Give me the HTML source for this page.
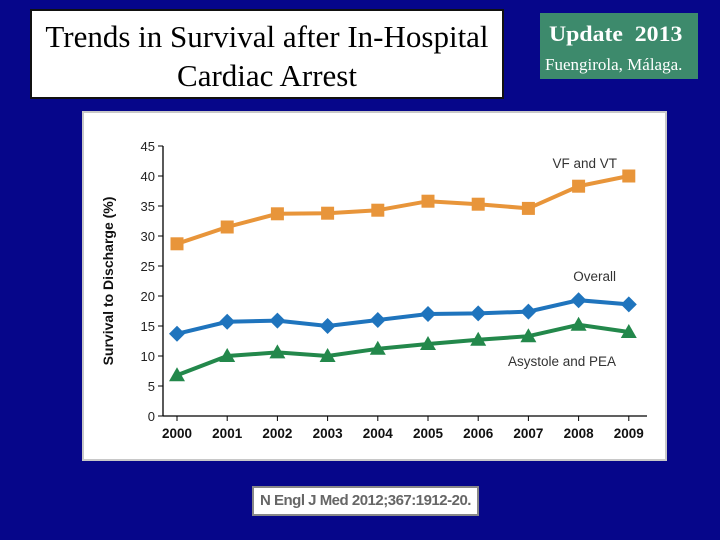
<!DOCTYPE html>
<html><head><meta charset="utf-8"><style>
body{margin:0;width:720px;height:540px;background:#06068a;position:relative;overflow:hidden;font-family:"Liberation Sans",sans-serif}
#title{position:absolute;left:30px;top:9px;width:474px;height:90px;background:#fff;border:2px solid #111;text-align:center;font-family:"Liberation Serif",serif;font-size:31px;line-height:39px;color:#000;padding-top:6px;box-sizing:border-box}
#badge{position:absolute;left:540px;top:13px;width:158px;height:66px;background:#3d8a6c;color:#fff;font-family:"Liberation Serif",serif}
#panel{position:absolute;left:82px;top:111px;width:585px;height:350px;background:#fff;border:2px solid #c8c8c8;box-sizing:border-box}
#cite{position:absolute;left:252px;top:486px;width:227px;height:30px;background:#fff;border:2px solid #888;box-sizing:border-box;color:#666;font-weight:bold;font-size:15px;line-height:26px;text-align:center;letter-spacing:-0.5px}
</style></head><body>
<div id="title">Trends in Survival after In-Hospital<br>Cardiac Arrest</div>
<div id="badge"><div style="position:absolute;left:9px;top:8px;font-size:22px;font-weight:bold;transform:scaleX(1.08);transform-origin:left">Update&nbsp; 2013</div><div style="position:absolute;left:5px;top:42px;font-size:17px;transform:scaleX(1.0);transform-origin:left;white-space:nowrap">Fuengirola, Málaga.</div></div>
<div id="panel"></div>
<svg id="chart" width="720" height="540" style="position:absolute;left:0;top:0"></svg>
<div id="cite">N Engl J Med 2012;367:1912-20.</div>
<script>
const years=["2000","2001","2002","2003","2004","2005","2006","2007","2008","2009"];
const yTicks=[0,5,10,15,20,25,30,35,40,45];
const vfvt=[28.7,31.5,33.7,33.8,34.3,35.8,35.3,34.6,38.3,40.0];
const overall=[13.7,15.7,15.9,15.0,16.0,17.0,17.1,17.4,19.3,18.6];
const asystole=[6.8,10.0,10.6,10.0,11.2,12.0,12.7,13.3,15.2,14.0];
const svg=document.getElementById('chart');const NS='http://www.w3.org/2000/svg';
const x=i=>177+i*50.2, y=v=>416-v*6;
function mk(t,a,txt){const e=document.createElementNS(NS,t);for(const k in a)e.setAttribute(k,a[k]);if(txt!=null)e.textContent=txt;svg.appendChild(e);return e;}
let e=mk('line',{x1:163,y1:146,x2:163,y2:416,stroke:'#000','stroke-width':1.3});

e=mk('line',{x1:163,y1:416,x2:647,y2:416,stroke:'#000','stroke-width':1.3});

yTicks.forEach(v=>{mk('line',{x1:158,y1:y(v),x2:163,y2:y(v),stroke:'#000'});
 e=mk('text',{x:155,y:y(v)+5,'text-anchor':'end','font-size':13,fill:'#222'},v);
 });
years.forEach((t,i)=>{mk('line',{x1:x(i),y1:416,x2:x(i),y2:421,stroke:'#000'});
 e=mk('text',{x:x(i),y:438,'text-anchor':'middle','font-size':13.5,'font-weight':'bold',fill:'#111'},t);
 });
e=mk('text',{transform:'translate(113,281) rotate(-90)','text-anchor':'middle','font-size':14,'font-weight':'bold',fill:'#111'},'Survival to Discharge (%)');

function series(d,col,shape,name){
 e=mk('polyline',{points:d.map((v,i)=>x(i)+','+y(v)).join(' '),fill:'none',stroke:col,'stroke-width':4});
 
 d.forEach((v,i)=>{const cx=x(i),cy=y(v);let m;
  if(shape==='sq')m=mk('rect',{x:cx-6.5,y:cy-6.5,width:13,height:13,fill:col});
  else if(shape==='di')m=mk('polygon',{points:`${cx},${cy-8} ${cx+8},${cy} ${cx},${cy+8} ${cx-8},${cy}`,fill:col});
  else m=mk('polygon',{points:`${cx},${cy-8} ${cx+8},${cy+6} ${cx-8},${cy+6}`,fill:col});
  });
}
series(vfvt,'#e8953a','sq','vf-vt');
series(overall,'#1f74bd','di','overall');
series(asystole,'#23884b','tr','asystole-pea');
[['VF and VT',617,168],['Overall',616,281],['Asystole and PEA',616,366]].forEach(l=>{
 e=mk('text',{x:l[1],y:l[2],'text-anchor':'end','font-size':13.5,fill:'#333'},l[0]);
 });
</script>
</body></html>
